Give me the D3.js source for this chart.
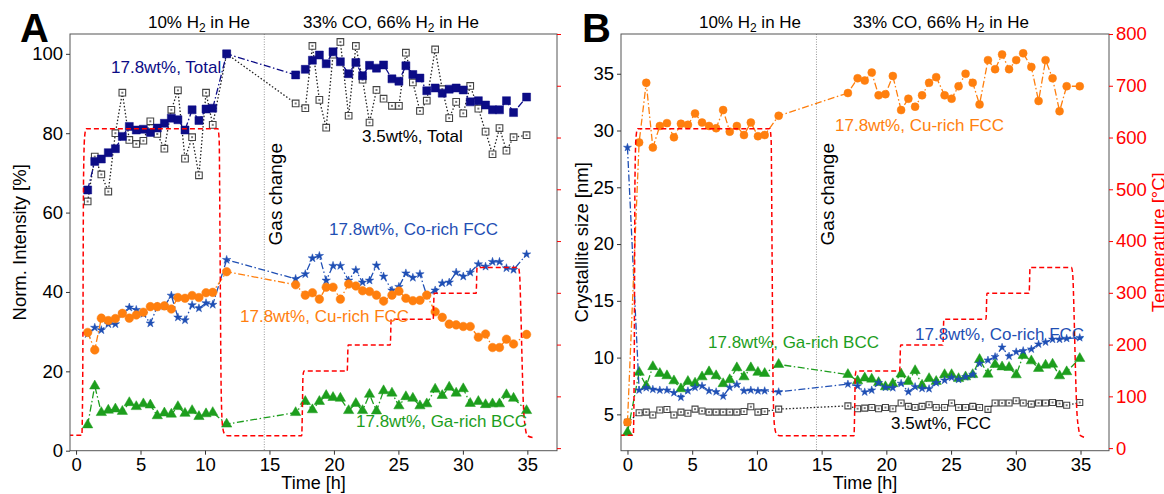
<!DOCTYPE html>
<html>
<head>
<meta charset="utf-8">
<script src="https://cdn.jsdelivr.net/npm/d3@7"></script>
<style>
  body { margin: 0; background: #fff; }
  text { font-family: "Liberation Sans", Arial, sans-serif; }
</style>
</head>
<body>
<div id="chart"></div>
<script>
// time grid [h]
var t1 = [0.9,1.45,1.96,2.5,3.05,3.59,4.13,4.67,5.22,5.76,6.3,6.85,7.39,7.9,8.45,9.0,9.53,10.08,10.6,11.68];
var t2 = [17.03,17.78,18.33,18.87,19.4,19.93,20.5,21.14,21.7,22.22,22.76,23.3,23.85,24.5,25.04,25.58,26.12,26.67,27.2,27.85,28.4,28.94,29.48,30.03,30.57,31.2,31.76,32.3,32.84,33.38,33.93,34.94];
var timesA = t1.concat(t2);
var timesB = [0].concat(t1, t2);

// panel A: normalised intensity [%]
var totalHi = [65.7,72.9,73.5,75.1,76.1,79.2,81.7,80.8,81.0,80.2,81.3,82.5,83.8,83.4,80.8,85.9,83.2,86.1,86.3,100,
  94.7,96.1,98.4,99.7,97.5,100.5,98.0,95.0,97.8,94.5,97.1,96.4,97.2,93.7,93.1,97.0,94.8,93.9,90.7,91.4,90.1,91.1,91.4,90.9,87.9,88.2,87.1,85.9,85.9,88.2,85.2,89.1];
var totalLo = [62.8,74.1,69.6,65.3,80.0,90.2,78.3,77.3,78.1,83.0,79.8,76.1,85.9,90.8,73.6,79.0,69.4,90.2,82.1,100,
  87.5,86.3,102.0,88.4,81.4,99.8,103.0,84.4,102.0,93.5,82.7,90.9,88.7,86.9,86.9,100.3,92.8,85.6,88.2,101.1,91.1,83.8,87.9,85.0,91.9,86.2,80.4,74.7,81.3,75.6,79.0,79.5];
var coRichA = [29.4,31.0,30.4,31.9,31.9,34.6,36.1,35.5,34.5,32.1,36.3,36.4,39.1,33.6,32.9,36.7,35.9,37.2,36.8,48.1,
  43.3,44.5,48.5,49.1,42.9,46.6,46.6,42.9,45.5,42.4,42.9,46.7,43.9,40.4,41.3,44.7,43.6,44.5,39.1,40.4,42.2,42.4,44.9,43.9,44.9,47.0,46.4,47.6,47.6,46.0,45.6,49.5];
var cuRichA = [29.8,25.4,33.4,32.8,33.3,34.6,33.4,34.2,34.9,36.3,36.3,36.5,35.7,38.6,38.4,39.1,38.6,39.8,39.9,45.1,
  41.8,39.2,39.8,38.2,41.2,41.2,38.2,42.0,41.5,40.3,40.1,39.2,37.7,39.2,40.2,38.4,37.8,37.9,39.2,35.0,33.6,31.9,31.7,31.3,31.3,28.6,29.4,26.0,26.0,28.1,26.9,29.3];
var gaRichA = [6.5,16.3,9.6,10.2,10.5,9.9,12.1,11.1,11.8,11.5,8.8,9.5,9.2,11.1,9.4,10.1,8.6,9.3,9.6,6.7,
  9.6,12.4,10.3,12.4,13.9,13.4,13.2,10.1,11.9,10.1,14.2,10.0,15.1,14.5,11.3,13.6,13.2,11.3,11.8,15.5,13.9,16.0,14.5,15.6,11.9,12.4,11.6,11.8,11.8,14.1,13.2,10.1];

// panel B: crystallite size [nm]
var cuRichB = [4.3, 28.95,34.2,28.5,30.4,30.65,29.4,30.6,30.5,31.5,30.7,30.4,30.2,31.8,29.9,30.4,29.6,30.7,29.5,29.6,31.3,
  33.3,34.6,34.4,35.1,33.1,33.2,34.8,31.8,32.8,32.1,33.1,34.2,34.7,33.1,32.8,33.9,35.0,34.2,32.3,36.2,35.4,36.7,35.4,36.2,36.8,35.6,32.6,36.2,34.6,31.7,33.9,33.9];
var coRichB = [28.5, 7.13,7.34,7.2,7.13,7.13,6.9,6.5,7.07,7.37,7.5,7.07,6.98,6.6,7.37,7.63,7.07,7.13,7.07,7.07,6.98,
  7.66,7.49,6.96,7.13,7.78,7.37,7.34,7.72,6.98,7.43,7.28,7.25,7.78,8.0,8.25,8.07,8.3,8.51,9.48,9.77,10.07,10.9,10.12,10.5,10.6,10.74,11.18,11.36,11.6,11.6,11.68,11.75];
var gaRichB = [3.4, 8.7,7.5,9.2,8.6,8.4,7.95,7.25,7.9,7.75,8.3,8.75,8.4,7.7,8.05,9.1,8.3,9.1,8.7,8.6,9.4,
  8.51,7.95,8.2,8.1,7.8,7.43,7.7,8.55,7.9,8.85,7.57,8.15,7.9,8.5,8.5,8.15,8.3,8.5,9.83,8.54,9.39,9.18,9.13,8.48,10.19,9.71,9.04,9.33,9.42,8.39,8.75,9.92];
var fccLoB = [4.3, 5.14,5.2,4.94,5.38,5.43,4.94,5.2,5.1,5.46,5.3,5.2,5.2,5.2,5.2,5.2,5.25,5.67,5.2,5.25,5.46,
  5.75,5.5,5.55,5.6,5.5,5.6,5.5,6.0,5.7,5.6,5.7,5.85,5.6,5.6,6.0,5.6,5.6,5.7,5.6,5.44,6.0,6.0,6.0,6.2,6.0,5.9,6.0,6.0,6.05,5.95,5.8,6.05];

// temperature programme [h, °C]
var tempTime = [-0.6,0.45,0.52,0.58,0.66,0.78,11.0,11.1,11.17,11.25,11.35,11.5,11.75,17.5,17.55,17.6,17.68,21.03,21.1,24.37,24.44,27.7,27.77,31.03,31.1,34.3,34.4,34.5,34.6,34.7,34.85,35.0,35.5];
var tempVal  = [25,25,150,520,600,617,617,595,380,120,45,28,24,24,70,140,149,149,199,199,249,249,299,299,349,349,335,260,160,80,38,24,20];

var tempTicks = [0,100,200,300,400,500,600,700,800];
var xTicks = [0,5,10,15,20,25,30,35];
var gasChange = 14.6;

var W = 1164, H = 494;
var svg = d3.select("#chart").append("svg").attr("width", W).attr("height", H);

var plotTop = 34, plotBottom = 450.7;
var red = "#ff0000";
var fontStack = "Liberation Sans, Arial, sans-serif";

function drawPanel(p) {
  var g = svg.append("g");
  var x = d3.scaleLinear().domain(p.xDomain).range([p.left, p.right]);
  var y = d3.scaleLinear().domain(p.yDomain).range([plotBottom, plotTop]);
  var yT = d3.scaleLinear().domain([-5, 800]).range([plotBottom, plotTop]);

  var clipId = "clip" + p.name;
  svg.append("clipPath").attr("id", clipId)
    .append("rect").attr("x", p.left).attr("y", plotTop)
    .attr("width", p.right - p.left).attr("height", plotBottom - plotTop);

  // gas change line
  g.append("line")
    .attr("x1", x(gasChange)).attr("x2", x(gasChange))
    .attr("y1", plotTop).attr("y2", plotBottom)
    .attr("stroke", "#9a9a9a").attr("stroke-width", 1)
    .attr("stroke-dasharray", "1,1.5");
  g.append("text")
    .attr("transform", "translate(" + (x(gasChange) + 18) + ",143) rotate(-90)")
    .attr("text-anchor", "end").attr("font-size", 19).text("Gas change");

  var plot = g.append("g").attr("clip-path", "url(#" + clipId + ")");

  p.series.forEach(function(s) {
    var pts = s.times.map(function(t, i) { return [t, s.values[i]]; });
    var line = d3.line().x(function(d) { return x(d[0]); }).y(function(d) { return y(d[1]); });
    plot.append("path").datum(pts)
      .attr("d", line).attr("fill", "none")
      .attr("stroke", s.lineColor || s.color).attr("stroke-width", 1.3)
      .attr("stroke-dasharray", s.dash);
    var sym = d3.symbol().type(s.symbol).size(s.size);
    plot.selectAll(null).data(pts).enter().append("path")
      .attr("d", sym)
      .attr("transform", function(d) { return "translate(" + x(d[0]) + "," + y(d[1]) + ")"; })
      .attr("fill", s.open ? "#fff" : s.color)
      .attr("stroke", s.open ? "#444" : s.color)
      .attr("stroke-width", s.open ? 1.1 : 0.5);
    if (s.open) {
      plot.selectAll(null).data(pts).enter().append("rect")
        .attr("x", function(d) { return x(d[0]) - 1; })
        .attr("y", function(d) { return y(d[1]) - 1; })
        .attr("width", 2).attr("height", 2).attr("fill", "#777");
    }
  });

  // temperature programme on the twin axis
  var tpts = tempTime.map(function(t, i) { return [t, tempVal[i]]; });
  plot.append("path").datum(tpts)
    .attr("d", d3.line().x(function(d) { return x(d[0]); }).y(function(d) { return yT(d[1]); }).curve(d3.curveMonotoneX))
    .attr("fill", "none").attr("stroke", red).attr("stroke-width", 1.5)
    .attr("stroke-dasharray", "5,3");

  // frame
  g.append("rect").attr("x", p.left).attr("y", plotTop)
    .attr("width", p.right - p.left).attr("height", plotBottom - plotTop)
    .attr("fill", "none").attr("stroke", "#555").attr("stroke-width", 1);

  // x axis
  var xa = g.append("g").attr("transform", "translate(0," + plotBottom + ")")
    .call(d3.axisBottom(x).tickValues(xTicks).tickSize(4).tickPadding(3));
  xa.select(".domain").remove();
  xa.selectAll("text").attr("font-size", 18.5).attr("fill", "#000").attr("font-family", fontStack);
  xa.selectAll("line").attr("stroke", "#333");

  // left y axis
  var ya = g.append("g").attr("transform", "translate(" + p.left + ",0)")
    .call(d3.axisLeft(y).tickValues(p.yTicks).tickSize(4).tickPadding(3));
  ya.select(".domain").remove();
  ya.selectAll("text").attr("font-size", 18.5).attr("fill", "#000").attr("font-family", fontStack);
  ya.selectAll("line").attr("stroke", "#333");

  // right temperature axis
  var ra = g.append("g").attr("transform", "translate(" + p.right + ",0)")
    .call(d3.axisRight(yT).tickValues(tempTicks).tickSize(4).tickPadding(3));
  ra.select(".domain").remove();
  ra.selectAll("line").attr("stroke", red);
  if (p.tempLabels) {
    ra.selectAll("text").attr("font-size", 18.5).attr("fill", red).attr("font-family", fontStack);
  } else {
    ra.selectAll("text").remove();
  }

  // axis titles
  g.append("text").attr("x", (p.left + p.right) / 2).attr("y", 489)
    .attr("text-anchor", "middle").attr("font-size", 18).text("Time [h]");
  g.append("text")
    .attr("transform", "translate(" + p.yLabelX + "," + (plotTop + plotBottom) / 2 + ") rotate(-90)")
    .attr("text-anchor", "middle").attr("font-size", 18.5).text(p.yLabel);
  if (p.tempLabels) {
    g.append("text")
      .attr("transform", "translate(1165," + (plotTop + plotBottom) / 2 + ") rotate(-90)")
      .attr("text-anchor", "middle").attr("font-size", 18.5).attr("fill", red).text("Temperature [°C]");
  }

  // panel letter
  g.append("text").attr("x", p.letterX).attr("y", 42)
    .attr("font-size", 40).attr("font-weight", "bold").text(p.name);

  // gas headers
  function header(cx, pre, post) {
    var tx = g.append("text").attr("x", cx).attr("y", 28).attr("text-anchor", "middle").attr("font-size", 17);
    tx.append("tspan").text(pre + "H");
    tx.append("tspan").attr("font-size", 12).attr("dy", 4).text("2");
    tx.append("tspan").attr("dy", -4).text(post);
  }
  header(p.h1, "10% ", " in He");
  header(p.h2, "33% CO, 66% ", " in He");

  // series labels
  p.labels.forEach(function(l) {
    g.append("text").attr("x", l.x).attr("y", l.y).attr("font-size", 17)
      .attr("fill", l.color).text(l.text);
  });
}

var navy = "#0c0c86", blue = "#1f4fb4", orange = "#ff7f0e", green = "#1d9e1d";
var dashDot = "7,2.5,1.5,2.5";

drawPanel({
  name: "A", left: 70, right: 557, xDomain: [-0.47, 37.3], yDomain: [0, 105],
  yTicks: [0,20,40,60,80,100], yLabel: "Norm. Intensity [%]", yLabelX: 26,
  tempLabels: false, letterX: 20, h1: 199, h2: 391,
  series: [
    {times: timesA, values: totalLo, color: "#444", lineColor: "#222", dash: "1.5,2", symbol: d3.symbolSquare, size: 44, open: true},
    {times: timesA, values: totalHi, color: navy, dash: dashDot, symbol: d3.symbolSquare, size: 64},
    {times: timesA, values: coRichA, color: blue, dash: dashDot, symbol: d3.symbolStar, size: 22},
    {times: timesA, values: cuRichA, color: orange, dash: dashDot, symbol: d3.symbolCircle, size: 58},
    {times: timesA, values: gaRichA, color: green, dash: dashDot, symbol: d3.symbolTriangle, size: 46}
  ],
  labels: [
    {x: 111, y: 73, color: navy, text: "17.8wt%, Total"},
    {x: 362, y: 142, color: "#000", text: "3.5wt%, Total"},
    {x: 329, y: 235, color: blue, text: "17.8wt%, Co-rich FCC"},
    {x: 240, y: 322, color: orange, text: "17.8wt%, Cu-rich FCC"},
    {x: 356, y: 427, color: green, text: "17.8wt%, Ga-rich BCC"}
  ]
});

drawPanel({
  name: "B", left: 621, right: 1109, xDomain: [-0.5, 37.2], yDomain: [1.8, 38.5],
  yTicks: [5,10,15,20,25,30,35], yLabel: "Crystallite size [nm]", yLabelX: 588,
  tempLabels: true, letterX: 582, h1: 750, h2: 941,
  series: [
    {times: timesB, values: fccLoB, color: "#444", lineColor: "#222", dash: "1.5,2", symbol: d3.symbolSquare, size: 36, open: true},
    {times: timesB, values: gaRichB, color: green, dash: dashDot, symbol: d3.symbolTriangle, size: 46},
    {times: timesB, values: coRichB, color: blue, dash: dashDot, symbol: d3.symbolStar, size: 20},
    {times: timesB, values: cuRichB, color: orange, dash: dashDot, symbol: d3.symbolCircle, size: 50}
  ],
  labels: [
    {x: 835, y: 131, color: orange, text: "17.8wt%, Cu-rich FCC"},
    {x: 708, y: 348, color: green, text: "17.8wt%, Ga-rich BCC"},
    {x: 915, y: 340, color: blue, text: "17.8wt%, Co-rich FCC"},
    {x: 891, y: 429, color: "#000", text: "3.5wt%, FCC"}
  ]
});
</script>
</body>
</html>
